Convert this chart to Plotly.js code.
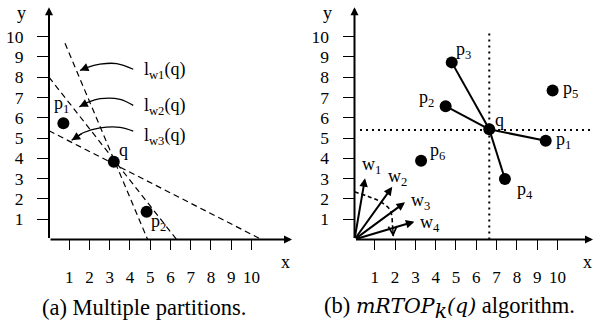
<!DOCTYPE html>
<html><head><meta charset="utf-8">
<script src="https://cdn.plot.ly/plotly-3.0.1.min.js"></script>
<style>html,body{margin:0;padding:0;background:#fff}#chart{width:595px;height:329px}</style>
</head><body><div id="chart"></div>
<script>
// ---------- data: panel (a) ----------
const tickValues = [1, 2, 3, 4, 5, 6, 7, 8, 9, 10];
const tickLabels = ['1', '2', '3', '4', '5', '6', '7', '8', '9', '10'];

const aPointNames = ['p<sub>1</sub>', 'q', 'p<sub>2</sub>'];
const aPointX = [0.71, 3.2, 4.82];
const aPointY = [5.73, 3.83, 1.37];

const lw1X = [0.79, 4.87], lw1Y = [9.67, 0];
const lw2X = [0, 6.3],    lw2Y = [8.0, 0];
const lw3X = [0, 10.5],   lw3Y = [5.36, 0];
const lineNames = ['l<sub>w1</sub>(q)', 'l<sub>w2</sub>(q)', 'l<sub>w3</sub>(q)'];

const curve1X = [4.16, 3.34, 2.52, 1.86, 1.53], curve1Y = [8.39, 8.67, 8.64, 8.47, 8.33];
const curve2X = [4.16, 3.51, 2.52, 1.94, 1.50], curve2Y = [6.61, 6.91, 6.94, 6.77, 6.54];
const curve3X = [4.16, 3.51, 2.52, 1.69, 1.12], curve3Y = [5.34, 5.53, 5.50, 5.26, 4.89];

// ---------- data: panel (b) ----------
const bPointNames = ['p<sub>1</sub>', 'p<sub>2</sub>', 'p<sub>3</sub>', 'p<sub>4</sub>', 'p<sub>5</sub>', 'p<sub>6</sub>', 'q'];
const bPointX = [9.42, 4.49, 4.79, 7.41, 9.76, 3.28, 6.64];
const bPointY = [4.87, 6.57, 8.73, 2.98, 7.34, 3.88, 5.43];
const linkedPoints = [0, 1, 2, 3]; // p1..p4 joined to q

const vDotX = [6.64, 6.64], vDotY = [0, 10.33];
const hDotX = [0.27, 11.68], hDotY = [5.40, 5.40];

const wNames = ['w<sub>1</sub>', 'w<sub>2</sub>', 'w<sub>3</sub>', 'w<sub>4</sub>'];
const wX = [0.52, 1.86, 2.49, 2.95];
const wY = [3.02, 2.60, 1.83, 0.88];

const arcX = [0, 0.68, 1.26, 1.75, 1.88, 1.91];
const arcY = [2.35, 2.12, 1.87, 1.46, 0.63, 0.14];

// ---------- styling / layout ----------
const FONT = '"Liberation Serif", "Times New Roman", serif';
const traces = [];
const ann = [];

function lineTrace(x, y, xa, ya, dash, width, shape) {
  traces.push({x: x, y: y, xaxis: xa, yaxis: ya, mode: 'lines', type: 'scatter',
    line: {color: '#000', width: width, dash: dash, shape: shape || 'linear'},
    hoverinfo: 'skip', showlegend: false, cliponaxis: false});
}
function label(text, x, y, xr, yr, size, xanchor) {
  ann.push({text: text, x: x, y: y, xref: xr, yref: yr, showarrow: false,
    xanchor: xanchor || 'center', yanchor: 'middle',
    font: {family: FONT, size: size || 18, color: '#000'}});
}
function arrow(x, y, ax, ay, xr, yr, width, head, size) {
  ann.push({text: '', x: x, y: y, ax: ax, ay: ay, xref: xr, yref: yr, axref: xr, ayref: yr,
    showarrow: true, arrowhead: head, arrowsize: size, arrowwidth: width, arrowcolor: '#000', standoff: 0});
}

// panel (a) lines
lineTrace(lw1X, lw1Y, 'x', 'y', '6px,4px', 1.2);
lineTrace(lw2X, lw2Y, 'x', 'y', '6px,4px', 1.2);
lineTrace(lw3X, lw3Y, 'x', 'y', '6px,4px', 1.2);
[[curve1X, curve1Y], [curve2X, curve2Y], [curve3X, curve3Y]].forEach(function (c) {
  lineTrace(c[0], c[1], 'x', 'y', 'solid', 1.3, 'spline');
  const n = c[0].length;
  arrow(c[0][n - 1], c[1][n - 1], c[0][n - 2], c[1][n - 2], 'x', 'y', 1.3, 2, 1.3);
});
traces.push({x: aPointX, y: aPointY, xaxis: 'x', yaxis: 'y', mode: 'markers', type: 'scatter',
  marker: {color: '#000', size: 12}, hoverinfo: 'skip', showlegend: false, cliponaxis: false});

// panel (b) lines
lineTrace(vDotX, vDotY, 'x2', 'y2', '2px,4px', 2);
lineTrace(hDotX, hDotY, 'x2', 'y2', '2px,4px', 2);
const qi = bPointNames.indexOf('q');
linkedPoints.forEach(function (i) {
  lineTrace([bPointX[qi], bPointX[i]], [bPointY[qi], bPointY[i]], 'x2', 'y2', 'solid', 2);
});
lineTrace(arcX, arcY, 'x2', 'y2', '4px,3px', 1.6, 'spline');
traces.push({x: bPointX, y: bPointY, xaxis: 'x2', yaxis: 'y2', mode: 'markers', type: 'scatter',
  marker: {color: '#000', size: 12}, hoverinfo: 'skip', showlegend: false, cliponaxis: false});

// axes arrows
arrow(12, 0, 0, 0, 'x', 'y', 2, 2, 0.8);
arrow(0, 11.45, 0, 0, 'x', 'y', 2, 2, 0.8);
arrow(11.75, 0, 0, 0, 'x2', 'y2', 2, 2, 0.8);
arrow(0, 11.45, 0, 0, 'x2', 'y2', 2, 2, 0.8);

// w vectors
wX.forEach(function (v, i) { arrow(wX[i], wY[i], 0, 0, 'x2', 'y2', 2, 2, 0.85); });
{
  const n = arcX.length;
  arrow(arcX[n - 1], arcY[n - 1], arcX[n - 2], arcY[n - 2], 'x2', 'y2', 1.4, 5, 1.2);
}

// labels panel (a)
const aLabelPos = [[0.62, 6.66], [3.70, 4.43], [5.43, 0.83]];
aPointNames.forEach(function (t, i) { label(t, aLabelPos[i][0], aLabelPos[i][1], 'x', 'y'); });
const lineLabelY = [8.31, 6.57, 5.09];
lineNames.forEach(function (t, i) { label(t, 4.58, lineLabelY[i], 'x', 'y', 18, 'left'); });
label('y', 0.0365, 0.9605, 'paper', 'paper');
label('x', 0.479, 0.2036, 'paper', 'paper');

// labels panel (b)
const bLabelPos = [[10.32, 4.90], [3.55, 6.97], [5.39, 9.34], [8.40, 2.40], [10.62, 7.37], [4.09, 4.33], [7.12, 5.89]];
bPointNames.forEach(function (t, i) { label(t, bLabelPos[i][0], bLabelPos[i][1], 'x2', 'y2'); });
const wLabelPos = [[0.82, 3.67], [2.14, 3.08], [3.23, 1.85], [3.72, 0.80]];
wNames.forEach(function (t, i) { label(t, wLabelPos[i][0], wLabelPos[i][1], 'x2', 'y2'); });
label('y', 0.5501, 0.9605, 'paper', 'paper');
label('x', 0.9882, 0.2046, 'paper', 'paper');

// captions
const MATH = 'font-family:\'DejaVu Serif\',serif;font-style:italic;font-size:20.5px';
label('(a) Multiple partitions.', 0.2418, 0.064, 'paper', 'paper', 22.5);
label('(b) <span style="' + MATH + '">mRTOP</span><sub><span style="' + MATH + '">k</span></sub>' +
  '<span style="' + MATH + '">(q)</span> algorithm.', 0.7563, 0.064, 'paper', 'paper', 22.5);

function xAxis(domain, range) {
  return {domain: domain, range: range, showgrid: false, zeroline: false, showline: false,
    tickvals: tickValues, ticktext: tickLabels, ticks: 'outside', ticklen: 10, tickwidth: 1,
    tickcolor: '#000', ticklabelstandoff: 12, fixedrange: true,
    tickfont: {family: FONT, size: 17, color: '#000'}};
}
function yAxis(anchor) {
  return {domain: [0.27204, 0.97812], range: [0, 11.45], anchor: anchor, showgrid: false,
    zeroline: false, showline: false, tickvals: tickValues, ticktext: tickLabels,
    ticks: 'outside', ticklen: 11, tickwidth: 1, tickcolor: '#000', ticklabelstandoff: 10,
    fixedrange: true, tickfont: {family: FONT, size: 17.5, color: '#000'}};
}

const layout = {
  width: 595, height: 329, margin: {l: 0, r: 0, t: 0, b: 0},
  paper_bgcolor: '#fff', plot_bgcolor: '#fff', showlegend: false,
  font: {family: FONT, size: 17, color: '#000'},
  xaxis: Object.assign(xAxis([0.08235, 0.49076], [0, 12]), {anchor: 'y'}),
  yaxis: yAxis('x'),
  xaxis2: Object.assign(xAxis([0.59580, 0.99664], [0, 11.75]), {anchor: 'y2'}),
  yaxis2: yAxis('x2'),
  annotations: ann
};

Plotly.newPlot('chart', traces, layout, {staticPlot: true, displayModeBar: false});
</script>
</body></html>
